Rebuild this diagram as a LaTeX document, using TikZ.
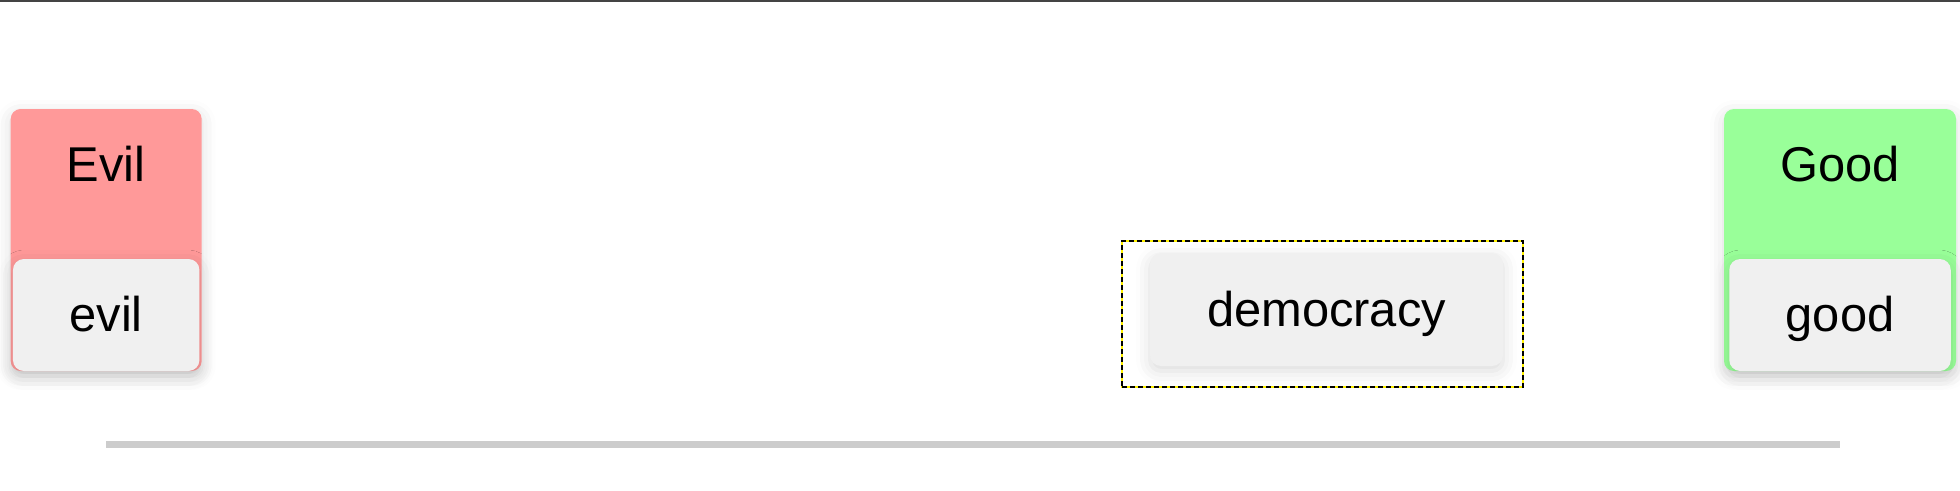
\documentclass[tikz,border=0pt]{standalone}
\usepackage{fontspec}
\setmainfont{Liberation Sans}
\usetikzlibrary{positioning,shadows.blur}

\definecolor{evilred}{HTML}{FF9999}
\definecolor{goodgreen}{HTML}{99FF99}
\definecolor{wordgray}{HTML}{F0F0F0}
\definecolor{scalegray}{HTML}{CCCCCC}
\definecolor{topbar}{HTML}{444444}

\tikzset{
  softshadow/.style={blur shadow={shadow xshift=0pt, shadow yshift=-0.1cm,
      shadow blur radius=0.28cm, shadow opacity=14}},
  catbox/.style={rounded corners=0.2cm, inner sep=0pt, minimum height=5.24cm, softshadow},
  wordbox/.style={rounded corners=0.22cm, inner sep=0pt, fill=wordgray,
      minimum height=2.24cm, text height=0.86cm, text depth=0.19cm,
      font=\fontsize{27.8}{32}\selectfont, softshadow},
  cattitle/.style={inner sep=0pt, font=\fontsize{27.8}{32}\selectfont},
  dropframe/.style={draw=black, line width=0.04cm, dash pattern=on 0.1cm off 0.06cm,
      preaction={draw=yellow, solid, line width=0.04cm}, inner sep=0pt}
}

\begin{document}
\begin{tikzpicture}
    \useasboundingbox (0,0) rectangle (39.2,9.8);
    % barra in alto
    \fill[topbar] (0,9.76) rectangle (39.2,9.8);

    % === Evil ===
    \node[catbox, fill=evilred, minimum width=3.82cm] (evilbox) at (2.124,5) {};
    \node[cattitle] (eviltitle) at ([yshift=-1.1cm]evilbox.north) {Evil};
    \node[wordbox, minimum width=3.73cm, anchor=south] (evilword) at (evilbox.south) {evil};

    % === Good ===
    \node[catbox, fill=goodgreen, minimum width=4.64cm] (goodbox) at (36.8,5) {};
    \node[cattitle] (goodtitle) at ([yshift=-1.1cm]goodbox.north) {Good};
    \node[wordbox, minimum width=4.43cm, anchor=south] (goodword) at (goodbox.south) {good};

    % === parola da collocare ===
    \node[dropframe, minimum width=8.02cm, minimum height=2.92cm] (dropzone) at (26.45,3.52) {};
    \node[wordbox, minimum width=7.06cm, minimum height=2.26cm] (demword) at (26.53,3.61) {democracy};

    % scala
    \coordinate (scaleleft) at (evilbox.center |- 0,0.91);
    \coordinate (scaleright) at (goodbox.center |- 0,0.91);
    \draw[scalegray, line width=0.14cm] (scaleleft) -- (scaleright);
\end{tikzpicture}
\end{document}
